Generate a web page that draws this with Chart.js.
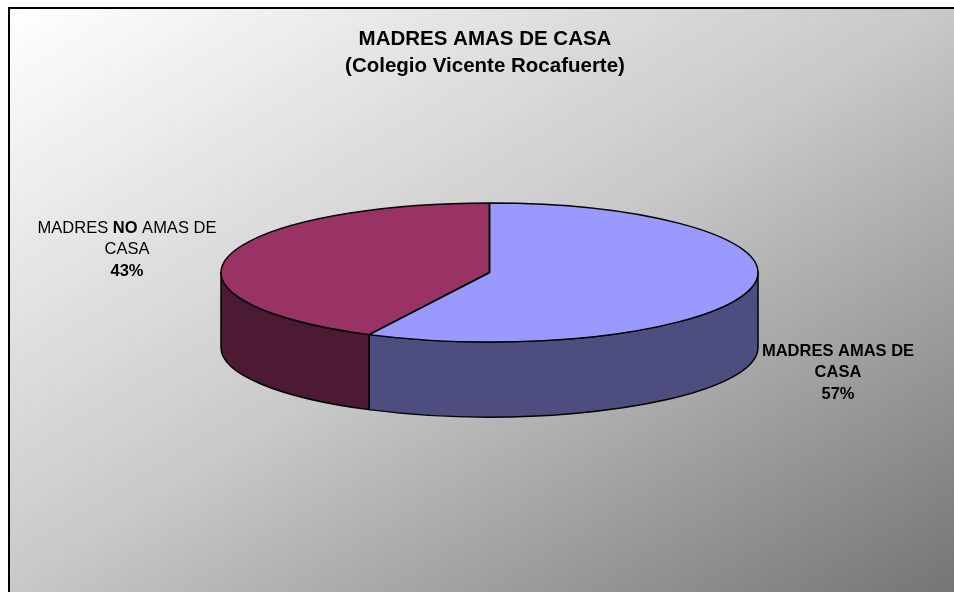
<!DOCTYPE html>
<html>
<head>
<meta charset="utf-8">
<script src="https://cdn.jsdelivr.net/npm/chart.js@4"></script>
<style>html,body{margin:0;padding:0;background:#fff}canvas{display:block}</style>
</head>
<body>
<canvas id="c" width="954" height="592"></canvas>
<script>
const categories = ['MADRES AMAS DE CASA', 'MADRES NO AMAS DE CASA'];
const values = [57.4, 42.6];
const percentLabels = ['57%', '43%'];
const titleLines = ['MADRES AMAS DE CASA', '(Colegio Vicente Rocafuerte)'];
const topColors = ['#9999FF', '#993366'];
const sideColors = ['#4D4D80', '#4D1A33'];

const SQUASH = 69.5 / 268.5, DEPTH = 75, DX = 4.5, FONT = 'Liberation Sans, Arial, sans-serif', LABEL_SIZE = '16.5px ';

function geom(chart) {
  const arcs = chart.getDatasetMeta(0).data;
  const a = arcs[0];
  return { arcs, cx: a.x + DX, cy: a.y, rx: a.outerRadius, ry: a.outerRadius * SQUASH };
}

const pie3d = {
  id: 'pie3d',
  beforeDraw(chart) {
    const c = chart.ctx;
    c.save();
    // Corner-to-corner gradient: the other two corners share one tone
    const L = 9, T = 8, W = 945, H = 584;
    const mx = L + W / 2, my = T + H / 2, n = Math.hypot(W, H), ux = H / n, uy = W / n;
    const d = (W / 2) * ux + (H / 2) * uy;
    const g = c.createLinearGradient(mx - ux * d, my - uy * d, mx + ux * d, my + uy * d);
    g.addColorStop(0, '#ffffff');
    g.addColorStop(0.5, '#c8c8c8');
    g.addColorStop(1, '#757575');
    c.fillStyle = g;
    c.fillRect(L, T, W, H);
    c.strokeStyle = '#000';
    c.lineWidth = 2;
    c.beginPath();
    c.moveTo(L, 592); c.lineTo(L, T); c.lineTo(954, T);
    c.stroke();
    c.restore();
  },
  beforeDatasetDraw(chart) {
    const c = chart.ctx, { arcs, cx, cy, rx, ry } = geom(chart);
    c.save();
    c.lineWidth = 1.5; c.strokeStyle = '#000'; c.lineJoin = 'round';
    arcs.forEach((el, i) => {
      const s = Math.max(el.startAngle, 0), e = Math.min(el.endAngle, Math.PI);
      if (e <= s) return;
      c.beginPath();
      c.ellipse(cx, cy, rx, ry, 0, s, e);
      c.ellipse(cx, cy + DEPTH, rx, ry, 0, e, s, true);
      c.closePath();
      c.fillStyle = sideColors[i];
      c.fill();
      c.stroke();
    });
    c.restore();
    c.save();
    c.translate(cx, cy); c.scale(1, SQUASH); c.translate(-arcs[0].x, -arcs[0].y);
  },
  afterDatasetDraw(chart) {
    const c = chart.ctx;
    c.restore();
    const { arcs, cx, cy, rx, ry } = geom(chart);
    c.save();
    c.lineWidth = 1.5; c.strokeStyle = '#000'; c.lineJoin = 'round';
    arcs.forEach(el => {
      c.beginPath();
      c.moveTo(cx, cy);
      c.ellipse(cx, cy, rx, ry, 0, el.startAngle, el.endAngle);
      c.closePath();
      c.stroke();
    });
    c.restore();
  },
  afterDraw(chart) {
    const c = chart.ctx;
    c.save();
    c.fillStyle = '#000';
    c.textBaseline = 'middle';
    const line = (parts, x, y) => {
      let w = 0;
      parts.forEach(p => { c.font = (p[1] ? 'bold ' : '') + LABEL_SIZE + FONT; w += c.measureText(p[0]).width; });
      let px = x - w / 2;
      c.textAlign = 'left';
      parts.forEach(p => { c.font = (p[1] ? 'bold ' : '') + LABEL_SIZE + FONT; c.fillText(p[0], px, y); px += c.measureText(p[0]).width; });
    };
    line([['MADRES AMAS DE', true]], 838, 351);
    line([['CASA', true]], 838, 372);
    line([[percentLabels[0], true]], 838, 394);
    line([['MADRES ', false], ['NO', true], [' AMAS DE', false]], 127, 228);
    line([['CASA', false]], 127, 249);
    line([[percentLabels[1], true]], 127, 271);
    c.restore();
  }
};

new Chart(document.getElementById('c'), {
  type: 'pie',
  data: {
    labels: categories,
    datasets: [{ data: values, backgroundColor: topColors, borderWidth: 0 }]
  },
  plugins: [pie3d],
  options: {
    responsive: false,
    animation: false,
    radius: 268.5,
    layout: { padding: { left: 16, right: 0, top: 0, bottom: 127 } },
    plugins: {
      legend: { display: false },
      tooltip: { enabled: false },
      title: {
        display: true,
        text: titleLines,
        color: '#000',
        font: { family: FONT, size: 20.5, weight: 'bold', lineHeight: 1.317 },
        padding: { top: 26, bottom: 0 }
      }
    }
  }
});
</script>
</body>
</html>
